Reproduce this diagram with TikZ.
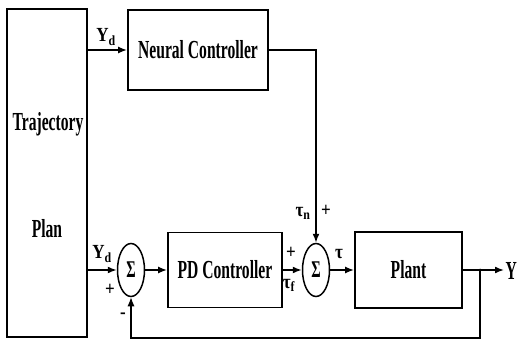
\documentclass[tikz,border=0pt]{standalone}
\usepackage{fontspec}
\setmainfont{Liberation Serif}[FakeStretch=0.6]
\newfontfamily\lblfont{Liberation Serif}[FakeStretch=0.85]
\usetikzlibrary{arrows.meta,shapes.geometric}

\begin{document}
\begin{tikzpicture}[x=1pt, y=-1pt, >={Latex[length=9pt,width=7pt]},
    font=\fontsize{26}{28}\selectfont\bfseries,
    block/.style={draw, line width=1.8pt, inner sep=0pt},
    sumnode/.style={draw, ellipse, line width=1.5pt, minimum width=27pt,
        minimum height=53pt, inner sep=0pt, font=\fontsize{24}{26}\selectfont\bfseries},
    sig/.style={line width=1.6pt},
    lbl/.style={font=\lblfont\fontsize{20}{22}\selectfont\bfseries, inner sep=0pt}]
    \useasboundingbox (0,0) rectangle (517,342);
    % blocks
    \node[block, minimum width=80pt, minimum height=328pt] (plan) at (47,173) {};
    \node (trajtext) at (48,124) {Trajectory};
    \node (plantext) at (47,229) {Plan};
    \node[block, minimum width=140pt, minimum height=80pt] (neural) at (198,50) {Neural Controller};
    \node[block, minimum width=114pt, minimum height=75pt] (pd) at (225,270) {PD Controller};
    \node[block, minimum width=107pt, minimum height=76pt] (plant) at (408.5,270) {Plant};
    \node[sumnode] (sum1) at (131,270) {Σ};
    \node[sumnode] (sum2) at (316,270) {Σ};
    \coordinate (branch) at (480,270);
    \coordinate (yout) at (504,270);
    % signals
    \draw[sig,->] (plan.east |- neural.west) -- (neural.west);
    \draw[sig,->] (plan.east |- sum1.west) -- (sum1.west);
    \draw[sig,->] (sum1.east) -- (pd.west);
    \draw[sig,->] (pd.east) -- (sum2.west);
    \draw[sig,->] (sum2.east) -- (plant.west);
    \draw[sig,->] (plant.east) -- (yout);
    \draw[sig,->] (neural.east) -| (sum2.north);
    \draw[line width=1.2pt,->] (branch) -- ++(0,68) -| (sum1.south);
    \fill (branch) circle (1.5pt);
    % labels
    \node[lbl] (yd1) at (106,37) {Y\textsubscript{d}};
    \node[lbl] (yd2) at (102,254) {Y\textsubscript{d}};
    \node[lbl] (plus1) at (110,290) {+};
    \node[lbl] (minus1) at (123,316) {-};
    \node[lbl] (taun) at (303,213) {τ\textsubscript{n}};
    \node[lbl] (plus2) at (326,211) {+};
    \node[lbl] (plus3) at (291,253) {+};
    \node[lbl] (tauf) at (289,285) {τ\textsubscript{f}};
    \node[lbl] (tau) at (339,254) {τ};
    \node[anchor=west, inner sep=0pt, font=\fontsize{26}{28}\selectfont\bfseries] (ylbl) at (505.5,271) {Y};
\end{tikzpicture}
\end{document}
